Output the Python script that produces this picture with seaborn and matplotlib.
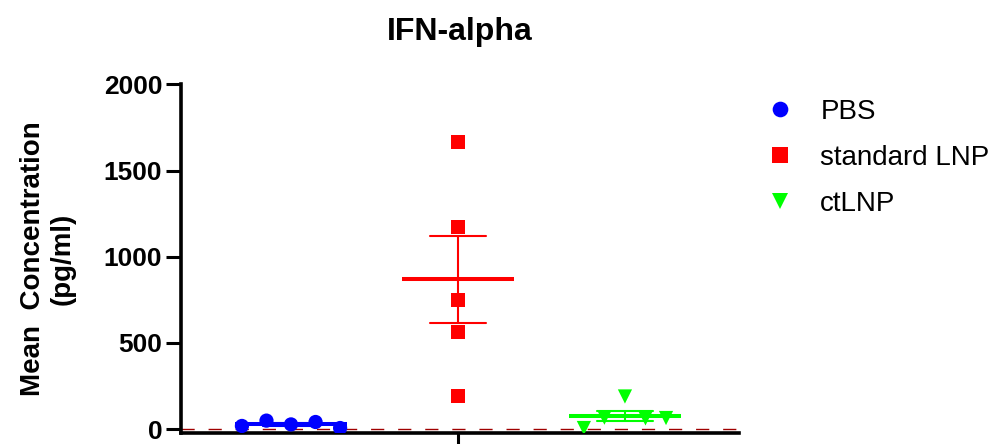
import numpy as np
import pandas as pd
import matplotlib
matplotlib.use("Agg")
import matplotlib.pyplot as plt
import seaborn as sns

# ---- data ----
groups = ["PBS", "standard LNP", "ctLNP"]
pbs_values = [18, 49, 27, 41, 6]
standard_lnp_values = [192, 563, 749, 1173, 1666]
ctlnp_values = [6, 66, 189, 62, 64]
y_ticks = [0, 500, 1000, 1500, 2000]
title_text = "IFN-alpha"
y_label = "Mean  Concentration\n(pg/ml)"

# ---- styling ----
colors = {"PBS": "#0000FF", "standard LNP": "#FF0000", "ctLNP": "#00FF00"}
markers = {"PBS": "o", "standard LNP": "s", "ctLNP": "v"}
spread = {"PBS": 0.147, "standard LNP": 0.0, "ctLNP": 0.123}  # horizontal scatter layout

sns.set_style("ticks")
plt.rcParams["font.family"] = ["Liberation Sans", "DejaVu Sans"]
for key in ["text.color", "axes.labelcolor", "xtick.color", "ytick.color", "axes.edgecolor"]:
    plt.rcParams[key] = "black"

series = {"PBS": pbs_values, "standard LNP": standard_lnp_values, "ctLNP": ctlnp_values}
rows = []
for code, g in enumerate(groups):
    vals = series[g]
    n = len(vals)
    for i, v in enumerate(vals):
        rows.append({"group": g, "code": code,
                     "pos": code + (i - (n - 1) / 2) * spread[g],
                     "value": v})
df = pd.DataFrame(rows)

fig = plt.figure(figsize=(9.95, 4.44), dpi=100)
ax = fig.add_axes([0.1824, 0.0259, 0.7427 - 0.1824, 0.8097 - 0.0259])

# zero reference line
ax.axhline(0, color="#A00000", lw=1.0, ls=(0, (9.5, 10)), zorder=1)

# mean +/- SEM
sns.pointplot(data=df, x="code", y="value", hue="group", hue_order=groups,
              palette=colors, native_scale=True, orient="x",
              errorbar="se", capsize=0.336, markers="_",
              markersize=80, markeredgewidth=2.9,
              err_kws={"linewidth": 1.5}, legend=False, ax=ax, zorder=2)

# individual points
sns.scatterplot(data=df, x="pos", y="value", hue="group", style="group",
                hue_order=groups, style_order=groups,
                palette=colors, markers=markers, s=105, linewidth=0,
                ax=ax, zorder=3, legend=True)

ax.set_xlim(-0.656, 2.683)
ax.set_ylim(-20, 2000)
ax.set_yticks(y_ticks)
ax.set_yticklabels([str(t) for t in y_ticks], fontsize=19, fontweight="bold")
ax.set_xticks([1])
ax.set_xticklabels([""])
ax.set_xlabel("")
ax.set_ylabel(y_label, fontsize=20, fontweight="bold", labelpad=20,
              multialignment="center")
ax.set_title(title_text, fontsize=23, fontweight="bold", pad=32)

for side in ["top", "right"]:
    ax.spines[side].set_visible(False)
for side in ["left", "bottom"]:
    ax.spines[side].set_linewidth(2.6)
    ax.spines[side].set_color("black")
ax.tick_params(axis="both", length=10.8, width=2.2, color="black", pad=3)

handles, labels = ax.get_legend_handles_labels()
ax.legend(handles, labels, loc="upper left",
          bbox_to_anchor=(0.770, 0.778), bbox_transform=fig.transFigure,
          frameon=False, fontsize=20, borderpad=0, borderaxespad=0,
          handlelength=1.0, handletextpad=0.95, labelspacing=0.72,
          markerscale=1.1)

fig.savefig("out.png", dpi=100)
